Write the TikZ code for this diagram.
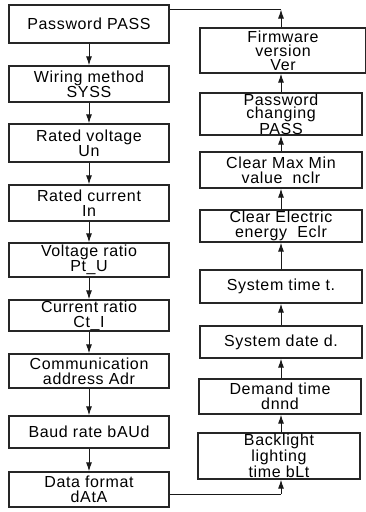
\documentclass[tikz,border=0pt]{standalone}
\usepackage{fontspec}
\setmainfont{Liberation Sans}[LetterSpace=4.0]
\usetikzlibrary{arrows.meta}
\begin{document}
\begin{tikzpicture}[x=1pt,y=-1pt,
  box/.style={draw=black!85, line width=1.3pt, inner sep=0pt, align=center,
    font=\fontsize{16}{15}\selectfont, text=black},
  lbox/.style={box, minimum width=160pt},
  rbox/.style={box, minimum width=162pt},
  three/.style={font=\fontsize{16}{13.8}\selectfont},
  arr/.style={draw=black!90, line width=1pt, -{Latex[length=9pt,width=6pt]}},
  ln/.style={draw=black!90, line width=1pt}]
\useasboundingbox (0,0) rectangle (365,512);
% left column
\node[lbox, minimum height=38pt] (l1) at (89,24) {Password PASS};
\node[lbox, minimum height=36pt] (l2) at (89,84) {Wiring method\\SYSS};
\node[lbox, minimum height=38pt] (l3) at (89,143) {Rated voltage\\Un};
\node[lbox, minimum height=36pt] (l4) at (89,203) {Rated current\\In};
\node[lbox, minimum height=34pt] (l5) at (89,260) {Voltage ratio\\Pt\_U};
\node[lbox, minimum height=31pt] (l6) at (89,315.5) {Current ratio\\Ct\_I};
\node[lbox, minimum height=34pt] (l7) at (89,371) {Communication\\address Adr};
\node[lbox, minimum height=32pt] (l8) at (89,432) {Baud rate bAUd};
\node[lbox, minimum height=35pt] (l9) at (89,489.5) {Data format\\dAtA};
% right column
\node[rbox, three, minimum width=166pt, minimum height=45pt] (r1) at (283,50.5) {Firmware\\version\\Ver};
\node[rbox, three, minimum height=42pt] (r2) at (281,114) {Password\\changing\\PASS};
\node[rbox, minimum height=36pt] (r3) at (281,170) {Clear Max Min\\value\ \ nclr};
\node[rbox, minimum height=32pt] (r4) at (281,226) {Clear Electric\\energy\ \ Eclr};
\node[rbox, minimum height=33pt] (r5) at (281,286.5) {System time t.};
\node[rbox, minimum height=32pt] (r6) at (281,342) {System date d.};
\node[rbox, minimum height=35pt] (r7) at (280,396.5) {Demand time\\dnnd};
\node[rbox, font=\fontsize{16}{13.2}\selectfont, minimum height=46pt] (r8) at (279,456) {Backlight\\lighting\\time bLt};
% left arrows
\foreach \a/\b in {l1/l2,l2/l3,l3/l4,l4/l5,l5/l6,l6/l7,l7/l8,l8/l9}
  \draw[arr] (\a.south) -- (\b.north);
% right arrows (upwards)
\coordinate (tc) at (281,9.5);
\coordinate (bc) at (281,494);
\foreach \a/\b in {r8/r7,r7/r6,r6/r5,r5/r4,r4/r3,r3/r2,r2/r1}
  \draw[arr] (tc |- \a.north) -- (tc |- \b.south);
\draw[arr] (tc |- r1.north) -- (tc);
\draw[ln] (tc) -- (l1.east |- tc);
\draw[ln] (l9.east |- bc) -- (bc);
\draw[arr] (bc) -- (tc |- r8.south);
\end{tikzpicture}
\end{document}
